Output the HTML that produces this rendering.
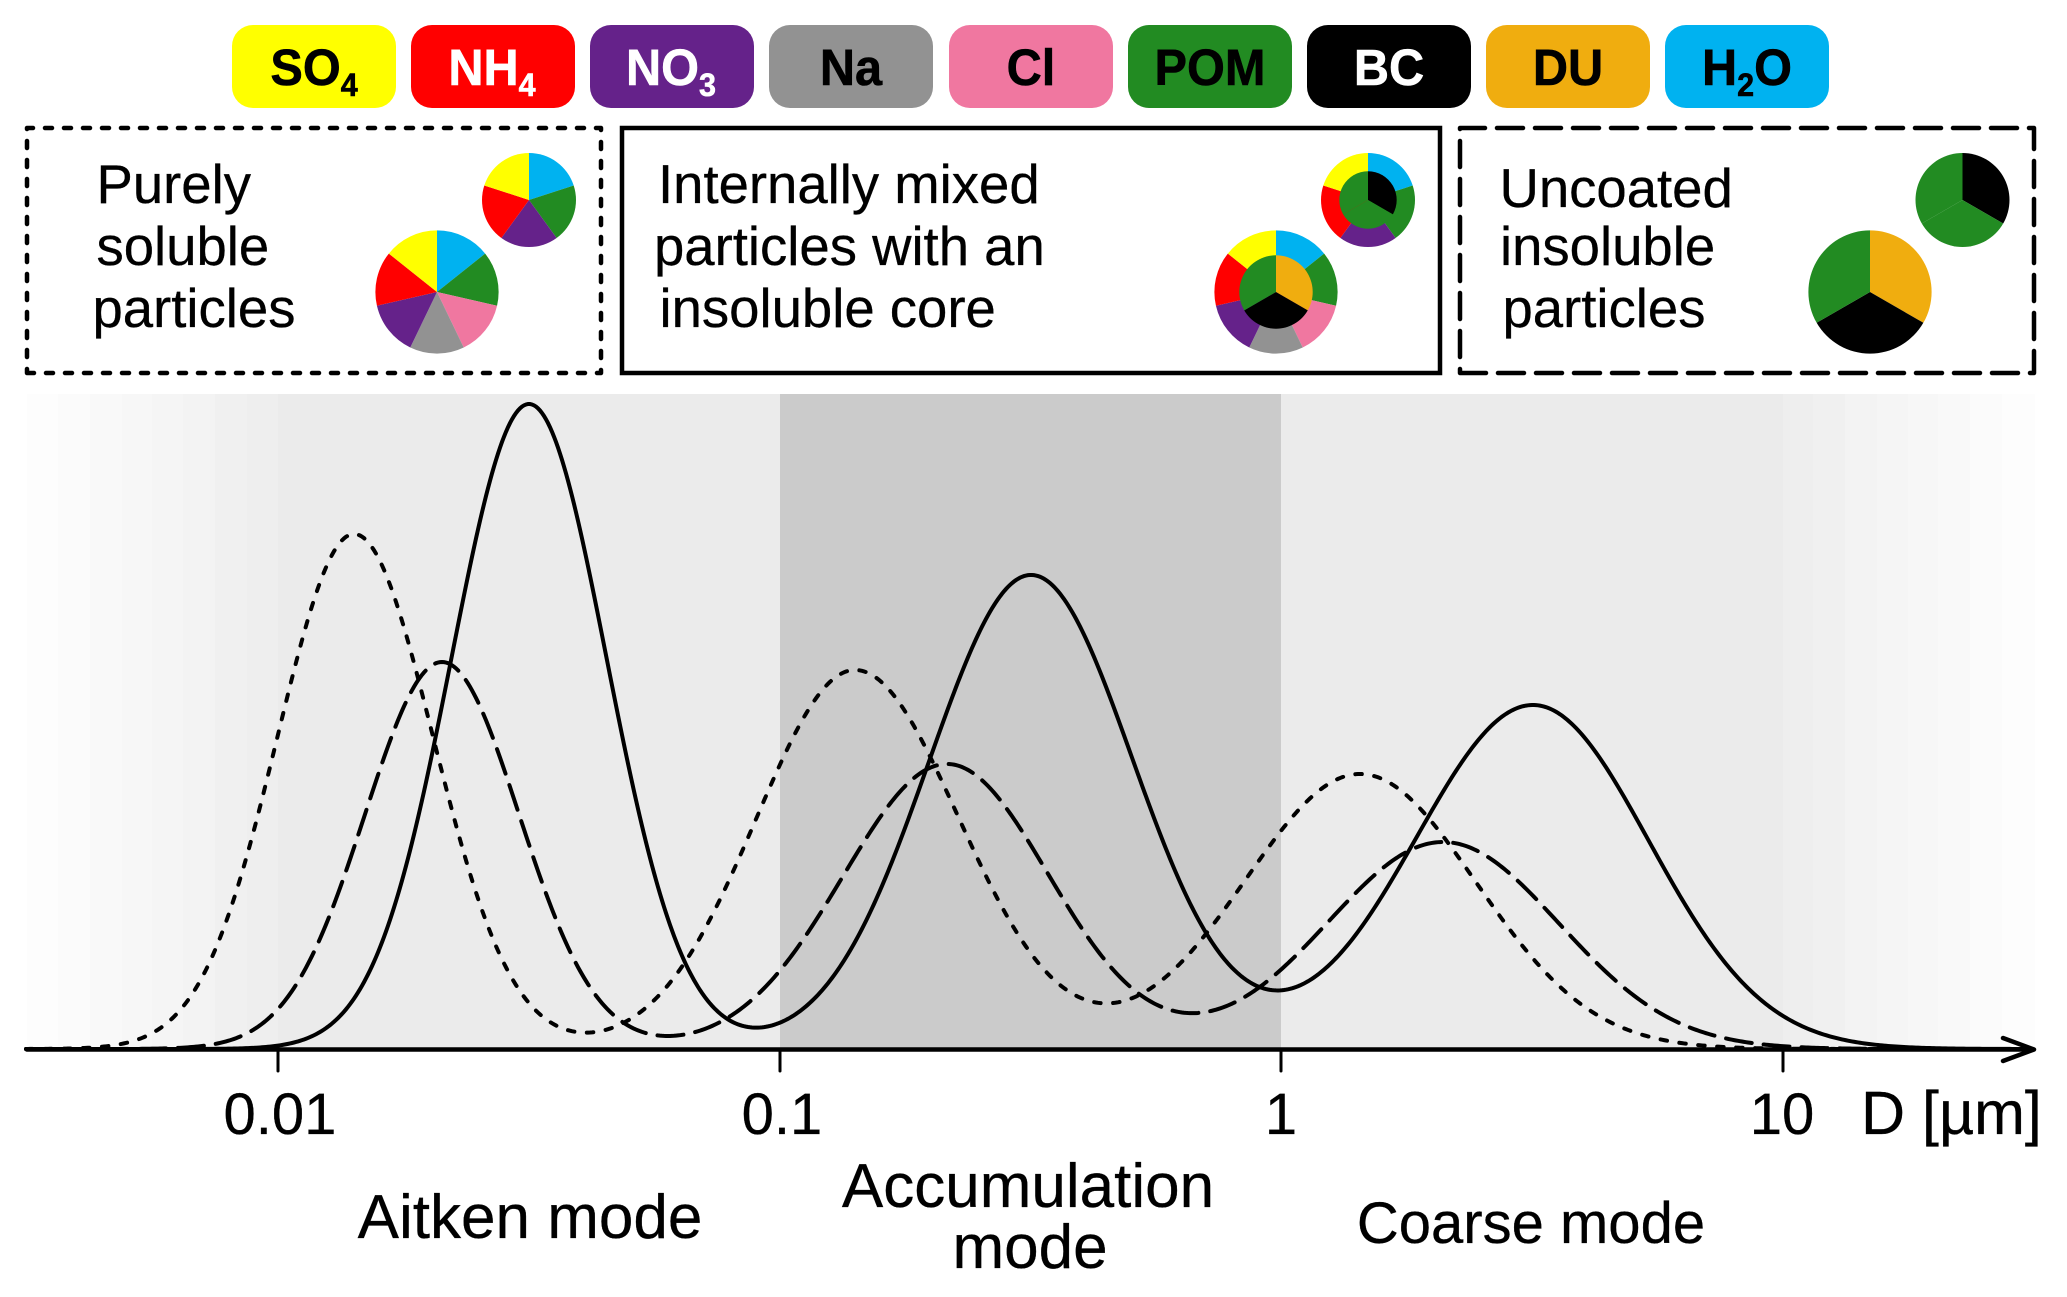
<!DOCTYPE html>
<html lang="en">
<head>
<meta charset="utf-8">
<title>Aerosol modes</title>
<style>
html,body{margin:0;padding:0;background:#fff;}
svg{display:block;}
text{font-family:"Liberation Sans",Arial,sans-serif;fill:#000;stroke:#000;stroke-width:.3px;}
.b{font-weight:bold;font-size:51px;text-anchor:middle;transform-box:fill-box;transform-origin:center;transform:scaleX(.955);stroke-width:.6px;}
.w{fill:#fff;stroke:#fff;}
.t{font-size:54.5px;}
.a{font-size:58px;text-anchor:middle;}
.m{font-size:62px;text-anchor:middle;}
</style>
</head>
<body>
<svg id="s" xmlns="http://www.w3.org/2000/svg" width="2067" height="1297" viewBox="0 0 2067 1297">
<rect width="2067" height="1297" fill="#fff"/>

<!-- legend -->
<rect x="232" y="25" width="164" height="83" rx="21" fill="#ffff00"/>
<rect x="411" y="25" width="164" height="83" rx="21" fill="#ff0000"/>
<rect x="590" y="25" width="164" height="83" rx="21" fill="#65228a"/>
<rect x="769" y="25" width="164" height="83" rx="21" fill="#929292"/>
<rect x="949" y="25" width="164" height="83" rx="21" fill="#f077a0"/>
<rect x="1128" y="25" width="164" height="83" rx="21" fill="#228b22"/>
<rect x="1307" y="25" width="164" height="83" rx="21" fill="#000"/>
<rect x="1486" y="25" width="164" height="83" rx="21" fill="#f0ad0f"/>
<rect x="1665" y="25" width="164" height="83" rx="21" fill="#00b2f0"/>
<text class="b" x="314" y="85">SO<tspan font-size="32" dy="11">4</tspan></text>
<text class="b w" x="492" y="85">NH<tspan font-size="32" dy="11">4</tspan></text>
<text class="b w" x="671" y="85">NO<tspan font-size="32" dy="11">3</tspan></text>
<text class="b" x="851" y="85">Na</text>
<text class="b" x="1031" y="85">Cl</text>
<text class="b" x="1210" y="85">POM</text>
<text class="b w" x="1389" y="85">BC</text>
<text class="b" x="1568" y="85">DU</text>
<text class="b" x="1747" y="85">H<tspan font-size="32" dy="11">2</tspan><tspan dy="-11">O</tspan></text>

<!-- boxes -->
<path d="M27 373H601V128H27Z" fill="none" stroke="#000" stroke-width="4.5" stroke-linecap="round" stroke-linejoin="round" stroke-dasharray="7 12"/>
<rect x="622" y="128" width="818" height="245" fill="none" stroke="#000" stroke-width="4.5"/>
<path d="M1460 373H2034V128H1460Z" fill="none" stroke="#000" stroke-width="4.5" stroke-linecap="round" stroke-linejoin="round" stroke-dasharray="26 12"/>

<text class="t" x="96.5" y="203">Purely</text>
<text class="t" x="96.5" y="265">soluble</text>
<text class="t" x="92.5" y="327">particles</text>
<text class="t" x="658" y="203">Internally mixed</text>
<text class="t" x="654" y="265">particles with an</text>
<text class="t" x="659.5" y="327">insoluble core</text>
<text class="t" x="1499.5" y="207">Uncoated</text>
<text class="t" x="1500" y="265">insoluble</text>
<text class="t" x="1502.5" y="327">particles</text>

<g id="pies"></g>

<!-- plot background -->
<g shape-rendering="crispEdges">
<rect x="27" y="394" width="31" height="655" fill="#fdfdfd"/>
<rect x="58" y="394" width="32" height="655" fill="#fbfbfb"/>
<rect x="90" y="394" width="32" height="655" fill="#f9f9f9"/>
<rect x="122" y="394" width="30" height="655" fill="#f7f7f7"/>
<rect x="152" y="394" width="31" height="655" fill="#f5f5f5"/>
<rect x="183" y="394" width="32" height="655" fill="#f3f3f3"/>
<rect x="215" y="394" width="32" height="655" fill="#f0f0f0"/>
<rect x="247" y="394" width="31" height="655" fill="#eeeeee"/>
<rect x="278" y="394" width="1505" height="655" fill="#ebebeb"/>
<rect x="780" y="394" width="501" height="655" fill="#cbcbcb"/>
<rect x="1783" y="394" width="30" height="655" fill="#eeeeee"/>
<rect x="1813" y="394" width="32" height="655" fill="#f0f0f0"/>
<rect x="1845" y="394" width="32" height="655" fill="#f3f3f3"/>
<rect x="1877" y="394" width="31" height="655" fill="#f5f5f5"/>
<rect x="1908" y="394" width="30" height="655" fill="#f7f7f7"/>
<rect x="1938" y="394" width="32" height="655" fill="#f9f9f9"/>
<rect x="1970" y="394" width="32" height="655" fill="#fbfbfb"/>
<rect x="2002" y="394" width="33" height="655" fill="#fdfdfd"/>
</g>

<!-- curves -->
<path id="c2" fill="none" stroke="#000" stroke-width="4" stroke-linecap="round" stroke-dasharray="6.5 12.5"/>
<path id="c3" fill="none" stroke="#000" stroke-width="4" stroke-linecap="round" stroke-dasharray="26 12"/>
<path id="c1" fill="none" stroke="#000" stroke-width="4" stroke-linecap="round"/>

<!-- axis -->
<line x1="27" y1="1049.5" x2="2033" y2="1049.5" stroke="#000" stroke-width="4.5" stroke-linecap="round"/>
<path d="M2003 1038L2034 1049.5L2003 1061" fill="none" stroke="#000" stroke-width="4.5" stroke-linecap="round" stroke-linejoin="round"/>
<g stroke="#000" stroke-width="3" stroke-linecap="round">
<line x1="278" y1="1050" x2="278" y2="1071"/>
<line x1="780" y1="1050" x2="780" y2="1071"/>
<line x1="1281" y1="1050" x2="1281" y2="1071"/>
<line x1="1783" y1="1050" x2="1783" y2="1071"/>
</g>

<text class="a" x="280" y="1134">0.01</text>
<text class="a" x="782" y="1134">0.1</text>
<text class="a" x="1281" y="1134">1</text>
<text class="a" x="1782" y="1134">10</text>
<text x="1861" y="1134" font-size="61">D [µm]</text>
<text class="m" x="530" y="1238">Aitken mode</text>
<text class="m" x="1028" y="1207">Accumulation</text>
<text class="m" x="1030" y="1268">mode</text>
<text class="m" x="1531" y="1243" style="font-size:58px">Coarse mode</text>
</svg>
<script>
(function(){
var B=1049;
function curve(id,m){
  var d='';
  for(var x=26;x<=2030;x+=2){
    var h=0;
    for(var i=0;i<m.length;i++){var s=x<m[i][0]?m[i][2]:m[i][3];var z=(x-m[i][0])/s;h+=m[i][1]*Math.exp(-z*z/2);}
    d+=(x==26?'M':'L')+x+' '+(B-h).toFixed(2);
  }
  document.getElementById(id).setAttribute('d',d);
}
curve('c1',[[529,645,77.5,77.5],[1031,474,102,102],[1533,344,118,115.5]]);
curve('c2',[[354,515,76.5,79],[855,379,99,104],[1360,275,116,116]]);
curve('c3',[[442,387,77,77],[947,285,104,102],[1443,207,116,116]]);

var NS='http://www.w3.org/2000/svg',g=document.getElementById('pies');
var C={y:'#ffff00',r:'#ff0000',p:'#65228a',a:'#929292',k:'#f077a0',g:'#228b22',b:'#000000',o:'#f0ad0f',w:'#00b2f0'};
function pie(cx,cy,r,cols){
  var n=cols.length,st=360/n;
  for(var i=0;i<n;i++){
    var a=(i*st)*Math.PI/180,e=((i+1)*st)*Math.PI/180;
    var x1=cx+r*Math.sin(a),y1=cy-r*Math.cos(a),x2=cx+r*Math.sin(e),y2=cy-r*Math.cos(e);
    var p=document.createElementNS(NS,'path');
    p.setAttribute('d','M'+cx+' '+cy+'L'+x1.toFixed(2)+' '+y1.toFixed(2)+'A'+r+' '+r+' 0 0 1 '+x2.toFixed(2)+' '+y2.toFixed(2)+'Z');
    p.setAttribute('fill',C[cols[i]]);
    g.appendChild(p);
  }
}
var s7=['w','g','k','a','p','r','y'],s5=['w','g','p','r','y'];
pie(529,200,47,s5);
pie(437,292,61.6,s7);
pie(1368,200,47,s5);
pie(1368,200,28.7,['b','g','g']);
pie(1276,292,61.6,s7);
pie(1276,292,36.7,['o','b','g']);
pie(1962.5,200,47,['b','g','g']);
pie(1870,292,61.6,['o','b','g']);
})();
</script>
</body>
</html>
